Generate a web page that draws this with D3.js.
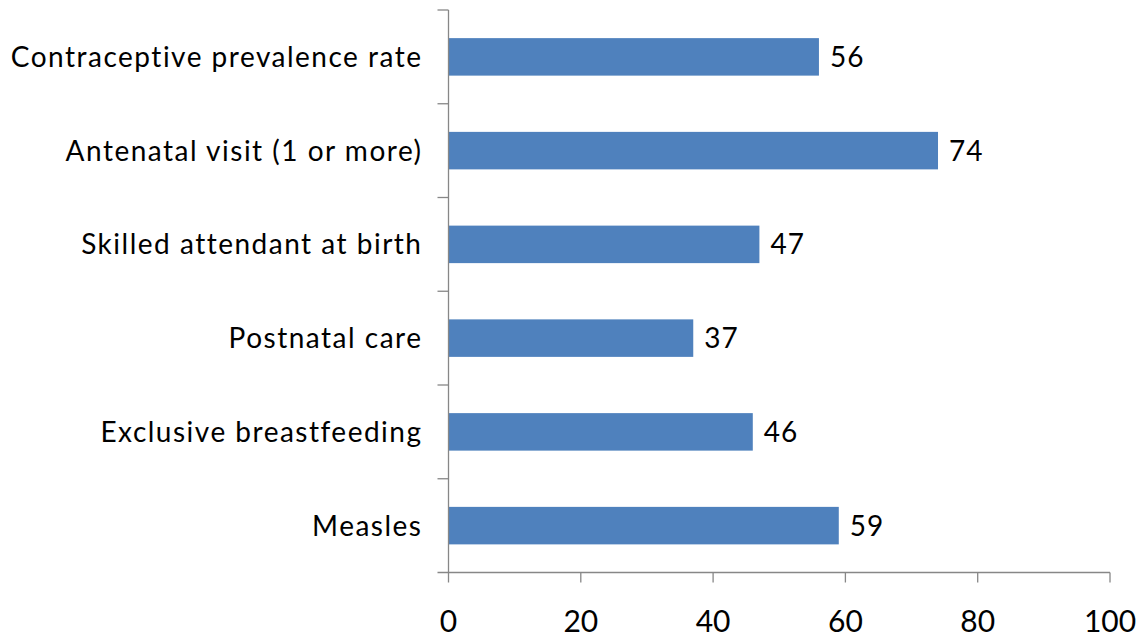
<!DOCTYPE html>
<html>
<head>
<meta charset="utf-8">
<script src="https://d3js.org/d3.v7.min.js"></script>
<style>
  body { margin: 0; background: #fff; }
  text { font-family: Lato, "Open Sans", sans-serif; fill: #000; }
</style>
</head>
<body>
<div id="chart"></div>
<script>
const categories = [
    "Contraceptive prevalence rate",
    "Antenatal visit (1 or more)",
    "Skilled attendant at birth",
    "Postnatal care",
    "Exclusive breastfeeding",
    "Measles"
];
const values = [56, 74, 47, 37, 46, 59];
const xTicks = [0, 20, 40, 60, 80, 100];

const width = 1140, height = 637;
const margin = {top: 10, right: 30, bottom: 65, left: 448.5};

const svg = d3.select("#chart")
    .append("svg")
    .attr("width", width)
    .attr("height", height);

const g = svg.append("g")
    .attr("transform", "translate(" + margin.left + "," + margin.top + ")");

const w = 1110 - margin.left;
const h = 572.5 - margin.top;

let x = d3.scaleLinear()
    .domain([0, 100])
    .range([0, w]);

// one band per category, bar ~40% of the band
let y = d3.scaleBand()
    .domain(categories)
    .range([0, h])
    .paddingInner(0.6)
    .paddingOuter(0.3);

const bandH = h / categories.length;

////////////
/// Bars ///
////////////

g.selectAll("rect.bar")
    .data(values)
    .enter()
    .append("rect")
    .attr("class", "bar")
    .attr("x", 0)
    .attr("y", (d, i) => y(categories[i]))
    .attr("width", d => x(d))
    .attr("height", y.bandwidth())
    .style("fill", "#4F81BD");

g.selectAll("text.val")
    .data(values)
    .enter()
    .append("text")
    .attr("class", "val")
    .attr("x", d => x(d) + 11)
    .attr("y", (d, i) => y(categories[i]) + y.bandwidth() / 2)
    .attr("dy", "0.36em")
    .style("font-size", "28px")
    .style("letter-spacing", "1px")
    .text(d => d);

////////////
/// Axes ///
////////////

const axisColor = "#878787";

g.append("line")
    .attr("x1", 0).attr("x2", 0)
    .attr("y1", 0).attr("y2", h)
    .style("stroke", axisColor).style("stroke-width", 1.3);

g.selectAll("line.ytick")
    .data(d3.range(categories.length))
    .enter()
    .append("line")
    .attr("class", "ytick")
    .attr("x1", -11).attr("x2", 0)
    .attr("y1", i => i * bandH).attr("y2", i => i * bandH)
    .style("stroke", axisColor).style("stroke-width", 1.3);

g.selectAll("text.cat")
    .data(categories)
    .enter()
    .append("text")
    .attr("class", "cat")
    .attr("text-anchor", "end")
    .attr("x", -26)
    .attr("y", d => y(d) + y.bandwidth() / 2)
    .attr("dy", "0.36em")
    .style("font-size", "28px")
    .style("letter-spacing", "1.5px")
    .text(d => d);

g.append("line")
    .attr("x1", -11).attr("x2", w)
    .attr("y1", h).attr("y2", h)
    .style("stroke", axisColor).style("stroke-width", 1.3);

g.selectAll("line.xtick")
    .data(xTicks)
    .enter()
    .append("line")
    .attr("class", "xtick")
    .attr("x1", d => x(d)).attr("x2", d => x(d))
    .attr("y1", h).attr("y2", h + 10)
    .style("stroke", axisColor).style("stroke-width", 1.3);

g.selectAll("text.xlab")
    .data(xTicks)
    .enter()
    .append("text")
    .attr("class", "xlab")
    .attr("text-anchor", "middle")
    .attr("x", d => x(d))
    .attr("y", h + 59)
    .style("font-size", "30px")
    .text(d => d);
</script>
</body>
</html>
